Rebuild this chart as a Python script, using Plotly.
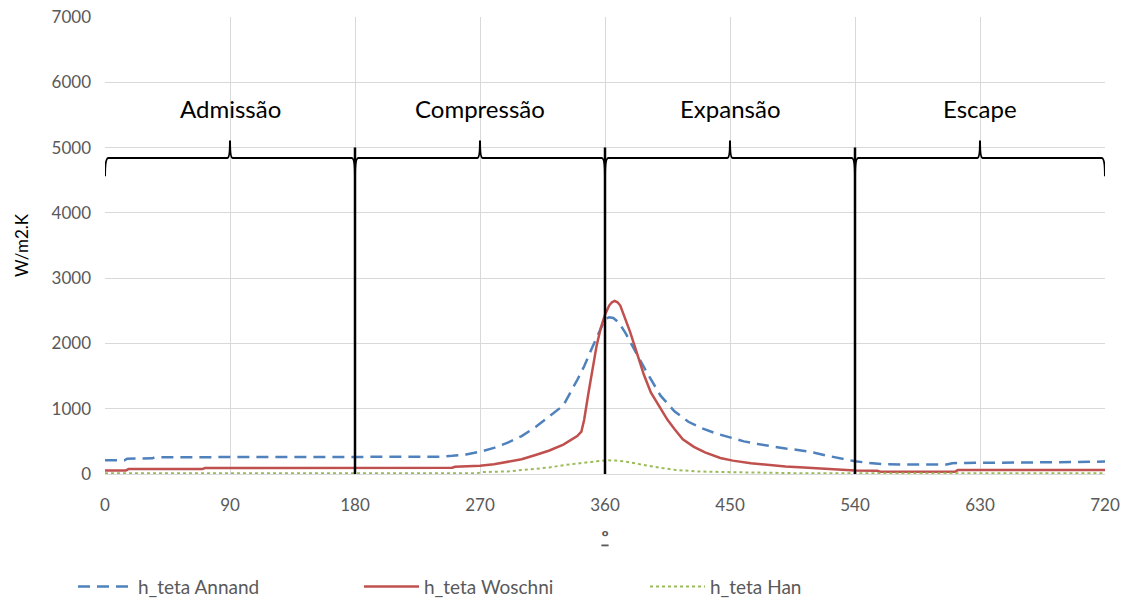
import plotly.graph_objects as go

# ---- data ----
annand_deg = [0, 14, 16, 34, 36, 60, 120, 180, 240, 250, 260, 270, 280, 290, 300, 310, 320, 330, 340, 345,
              350, 355, 360, 363, 366, 370, 375, 380, 385, 390, 400, 410, 420, 430, 440, 450, 460, 470, 480,
              490, 500, 510, 520, 530, 540, 550, 560, 580, 600, 606, 610, 620, 660, 700, 720]
annand_val = [210, 210, 235, 240, 255, 260, 262, 262, 265, 280, 300, 340, 400, 480, 580, 720, 880, 1050, 1440, 1650,
              1900, 2130, 2370, 2400, 2390, 2320, 2150, 1950, 1750, 1560, 1200, 960, 800, 700, 620, 560, 500, 460, 420,
              390, 365, 330, 280, 235, 195, 170, 150, 145, 145, 145, 165, 170, 175, 185, 190]

woschni_deg = [0, 15, 17, 70, 72, 180, 250, 252, 270, 280, 290, 300, 310, 320, 330, 340, 343, 345, 348, 351,
               354, 357, 360, 363, 365, 367, 369, 371, 374, 378, 383, 388, 393, 400, 405, 410, 416, 424, 432, 443, 452,
               465, 476, 490, 500, 515, 524, 540, 556, 558, 612, 614, 720]
woschni_val = [55, 55, 75, 75, 92, 92, 95, 110, 125, 150, 185, 225, 290, 360, 450, 580, 650, 830, 1230, 1620,
               1970, 2240, 2440, 2580, 2630, 2650, 2630, 2580, 2420, 2180, 1850, 1520, 1250, 1000, 830, 690, 530, 415, 330, 245, 205,
               165, 138, 115, 102, 85, 72, 55, 50, 35, 35, 60, 60]

han_deg = [0, 180, 268, 272, 290, 300, 310, 320, 330, 340, 350, 356, 362, 368, 375, 385, 392, 400, 410, 425,
           445, 470, 500, 720]
han_val = [12, 12, 12, 30, 40, 60, 75, 100, 135, 165, 185, 200, 210, 205, 190, 150, 120, 95, 65, 40,
           30, 20, 12, 10]

x_ticks = [0, 90, 180, 270, 360, 450, 540, 630, 720]
phase_bounds = [0, 180, 360, 540, 720]
phase_names = ["Admissão", "Compressão", "Expansão", "Escape"]

FONT = "Lato, 'Open Sans', sans-serif"
GRAY = "#595959"

fig = go.Figure()
fig.add_trace(go.Scatter(x=annand_deg, y=annand_val, mode="lines", name="h_teta Annand",
                         line=dict(color="#4f81bd", width=2.5, dash="12px,7px")))
fig.add_trace(go.Scatter(x=woschni_deg, y=woschni_val, mode="lines", name="h_teta Woschni",
                         line=dict(color="#c0504d", width=2.5)))
fig.add_trace(go.Scatter(x=han_deg, y=han_val, mode="lines", name="h_teta Han",
                         line=dict(color="#9bbb59", width=2, dash="dot")))

# phase separators and braces
brace_y, brace_end, brace_tip, sep_top = 4840, 4560, 5110, 5000
for b in phase_bounds[1:-1]:
    fig.add_shape(type="line", x0=b, x1=b, y0=0, y1=sep_top, xref="x", yref="y",
                  line=dict(color="black", width=2.5))
for i, name in enumerate(phase_names):
    a, c = phase_bounds[i], phase_bounds[i + 1]
    m = (a + c) / 2
    path = (f"M {a},{brace_end} Q {a},{brace_y} {a+2.5},{brace_y} L {m-2},{brace_y} "
            f"Q {m},{brace_y} {m},{brace_tip} Q {m},{brace_y} {m+2},{brace_y} "
            f"L {c-2.5},{brace_y} Q {c},{brace_y} {c},{brace_end}")
    fig.add_shape(type="path", path=path, xref="x", yref="y", line=dict(color="black", width=2))
    fig.add_annotation(x=m, y=5600, text=name, showarrow=False, xref="x", yref="y",
                       font=dict(family=FONT, size=24, color="black"))

fig.update_layout(
    width=1129, height=603,
    margin=dict(l=105, r=24, t=17, b=129, autoexpand=False),
    paper_bgcolor="white", plot_bgcolor="white",
    font=dict(family=FONT, color=GRAY, size=16),
    showlegend=True,
    legend=dict(orientation="h", x=-0.032, xanchor="left", y=-0.205, yanchor="top",
                font=dict(family=FONT, size=19, color=GRAY),
                entrywidth=216, entrywidthmode="pixels", itemwidth=55),
)
fig.update_xaxes(range=[0, 720], tickvals=x_ticks, ticktext=[str(v) for v in x_ticks],
                 showgrid=True, gridcolor="#d9d9d9", gridwidth=1, automargin=False,
                 showline=True, linecolor="#d9d9d9", linewidth=1, zeroline=False,
                 ticks="", ticklabelstandoff=16,
                 tickfont=dict(family=FONT, size=17, color=GRAY),
                 title=dict(text="<b><u>º</u></b>", font=dict(family=FONT, size=18, color=GRAY), standoff=16),
                 mirror=False)
fig.update_yaxes(range=[0, 7000], dtick=1000, tickformat="d", automargin=False,
                 showgrid=True, gridcolor="#d9d9d9", gridwidth=1, zeroline=False,
                 showline=False, ticks="", ticklabelstandoff=13, ticklabeloverflow="allow",
                 tickfont=dict(family=FONT, size=17, color=GRAY),
                 title=dict(text="W/m2.K", font=dict(family=FONT, size=17, color="black"), standoff=18))

fig.write_html("out.html", config={"displayModeBar": False},
               post_script="document.body.style.margin='0';document.body.style.overflow='hidden';")
